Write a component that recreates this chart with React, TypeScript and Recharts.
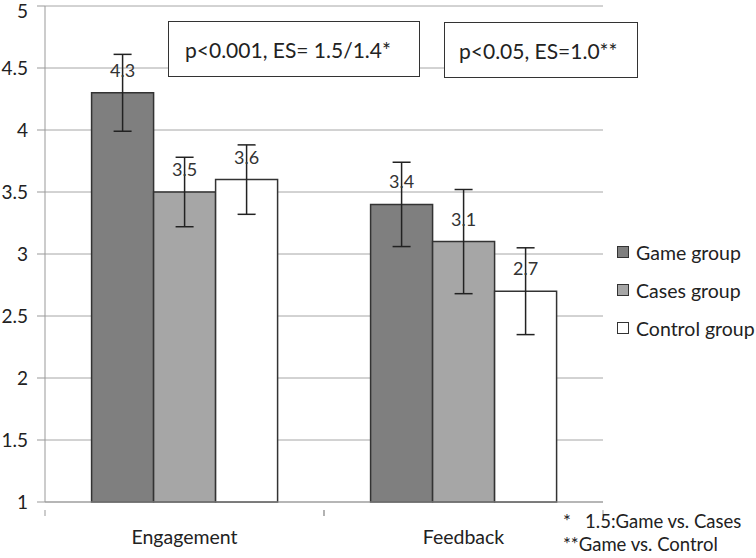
import { BarChart, Bar, XAxis, YAxis, CartesianGrid, ErrorBar, LabelList } from "recharts";

const categories = ["Engagement", "Feedback"];
const seriesNames = ["Game group", "Cases group", "Control group"];
const gameMeans = [4.3, 3.4];
const casesMeans = [3.5, 3.1];
const controlMeans = [3.6, 2.7];
const gameErrors = [0.31, 0.34];
const casesErrors = [0.28, 0.42];
const controlErrors = [0.28, 0.35];
const yTicks = [1, 1.5, 2, 2.5, 3, 3.5, 4, 4.5, 5];
const noteLines = ["*   1.5:Game vs. Cases", "**Game vs. Control"];

const FONT = "Lato, 'DejaVu Sans', sans-serif";
const seriesKeys = ["game", "cases", "control"];
const fills = ["#7f7f7f", "#a6a6a6", "#ffffff"];

const data = categories.map((name, i) => ({
  name,
  game: gameMeans[i],
  gameErr: gameErrors[i],
  cases: casesMeans[i],
  casesErr: casesErrors[i],
  control: controlMeans[i],
  controlErr: controlErrors[i],
}));

const CategoryTick = ({ x, y, payload }: any) => {
  const half = payload && payload.offset ? payload.offset : 0;
  return (
    <g>
      {half > 0 && (
        <>
          <line x1={x - half} y1={y} x2={x - half} y2={y + 6} stroke="#999" />
          <line x1={x + half} y1={y} x2={x + half} y2={y + 6} stroke="#999" />
        </>
      )}
      <text x={x} y={y + 34} textAnchor="middle" fontSize={19.5} fill="#222" fontFamily={FONT}>
        {payload.value}
      </text>
    </g>
  );
};

const boxStyle = {
  position: "absolute" as const,
  background: "#fff",
  border: "1.5px solid #333",
  fontFamily: FONT,
  fontSize: 21,
  color: "#222",
  display: "flex",
  alignItems: "center",
  boxSizing: "border-box" as const,
  whiteSpace: "nowrap" as const,
};

export default function App() {
  return (
    <div style={{ position: "absolute", left: 0, top: 0, width: 756, height: 558, background: "#fff", overflow: "hidden" }}>
      <BarChart
        width={756}
        height={558}
        data={data}
        margin={{ top: 6, right: 153, left: 0, bottom: 0 }}
        barCategoryGap="16.7%"
        barGap={0}
      >
        <CartesianGrid vertical={false} stroke="#a6a6a6" />
        <XAxis
          dataKey="name"
          axisLine={{ stroke: "#999" }}
          tickLine={false}
          tick={<CategoryTick />}
          height={56}
        />
        <YAxis
          domain={[1, 5]}
          ticks={yTicks}
          width={45}
          axisLine={{ stroke: "#999" }}
          tickLine={{ stroke: "#999" }}
          tickSize={8}
          tickMargin={9}
          tick={{ fontSize: 19, fill: "#222", fontFamily: FONT }}
        />
        {seriesKeys.map((key, i) => (
          <Bar
            key={key}
            dataKey={key}
            name={seriesNames[i]}
            fill={fills[i]}
            stroke="#333"
            strokeWidth={1.5}
            isAnimationActive={false}
          >
            <ErrorBar dataKey={key + "Err"} width={9} stroke="#222" strokeWidth={1.5} />
            <LabelList dataKey={key} position="top" offset={16} fontSize={18} fill="#333" fontFamily={FONT} />
          </Bar>
        ))}
      </BarChart>

      <div style={{ ...boxStyle, left: 168, top: 21, width: 252, height: 56, paddingLeft: 16 }}>
        p&lt;0.001, ES= 1.5/1.4*
      </div>
      <div style={{ ...boxStyle, left: 444, top: 22, width: 194, height: 56, paddingLeft: 14 }}>
        p&lt;0.05, ES=1.0**
      </div>

      <div style={{ position: "absolute", left: 617, top: 233, fontFamily: FONT, fontSize: 19.5, color: "#222" }}>
        {seriesNames.map((name, i) => (
          <div key={name} style={{ display: "flex", alignItems: "center", height: 38, whiteSpace: "nowrap" }}>
            <span
              style={{
                display: "inline-block",
                width: 12,
                height: 12,
                boxSizing: "border-box",
                background: fills[i],
                border: "1.5px solid #333",
                marginRight: 7,
              }}
            />
            {name}
          </div>
        ))}
      </div>

      <div
        style={{
          position: "absolute",
          left: 563,
          top: 510,
          fontFamily: FONT,
          fontSize: 18.5,
          color: "#222",
          lineHeight: "23px",
          whiteSpace: "pre",
        }}
      >
        {noteLines.map((line) => (
          <div key={line}>{line}</div>
        ))}
      </div>
    </div>
  );
}
